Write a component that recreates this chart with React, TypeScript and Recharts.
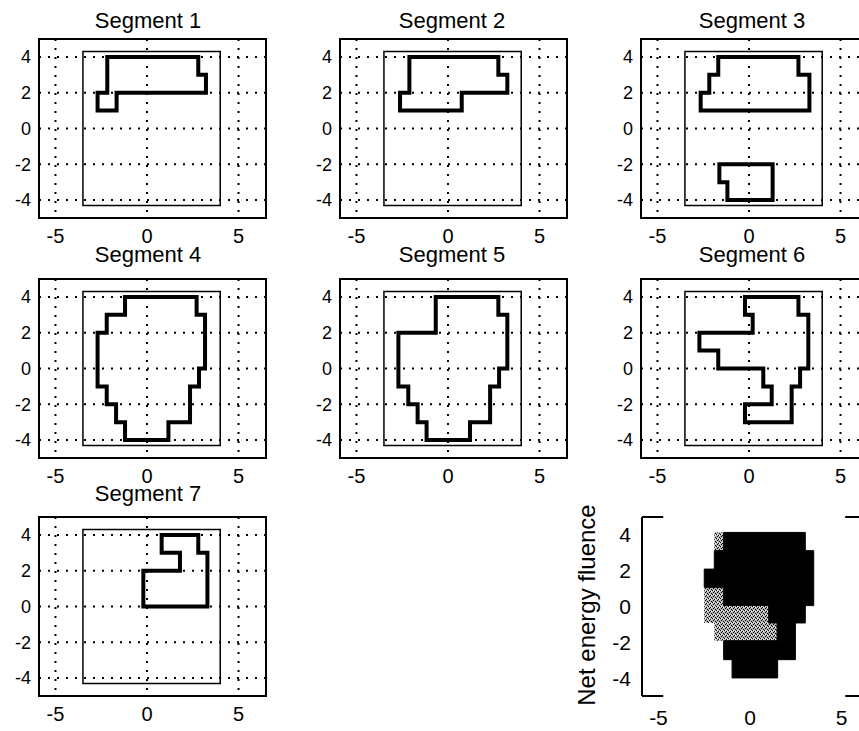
import React from "react";
import { ScatterChart, Scatter, XAxis, YAxis, CartesianGrid, ReferenceArea, ReferenceLine } from "recharts";

const FONT = '"Liberation Sans", Arial, Helvetica, sans-serif';

// axes
const X_DOMAIN: [number, number] = [-5.9, 6.5];
const Y_DOMAIN: [number, number] = [-5, 5];
const xTicks = [-5, 0, 5];
const yTicks = [-4, -2, 0, 2, 4];

// collimator field (thin rectangle)
const fieldX = [-3.5, 4.0];
const fieldY = [-4.3, 4.3];

// leaf pairs, bottom edge of each 1 cm row, top to bottom
const leafRows = [3, 2, 1, 0, -1, -2, -3, -4];

// leaf tip positions per row (null = closed pair)
const seg1Left = [-2.17, -2.17, -2.7, null, null, null, null, null];
const seg1Right = [2.8, 3.22, -1.66, null, null, null, null, null];
const seg2Left = [-2.11, -2.11, -2.62, null, null, null, null, null];
const seg2Right = [2.75, 3.24, 0.75, null, null, null, null, null];
const seg3Left = [-1.68, -2.17, -2.64, null, null, null, -1.62, -1.18];
const seg3Right = [2.7, 3.3, 3.3, null, null, null, 1.29, 1.29];
const seg4Left = [-1.2, -2.2, -2.7, -2.7, -2.7, -2.2, -1.69, -1.2];
const seg4Right = [2.71, 3.17, 3.17, 3.17, 2.84, 2.35, 2.35, 1.17];
const seg5Left = [-0.67, -0.67, -2.71, -2.71, -2.71, -2.17, -1.66, -1.17];
const seg5Right = [2.75, 3.24, 3.24, 3.24, 2.79, 2.3, 2.3, 1.2];
const seg6Left = [-0.22, 0.2, -2.71, -1.68, 0.78, 1.24, -0.22, null];
const seg6Right = [2.7, 3.24, 3.24, 3.24, 2.79, 2.33, 2.33, null];
const seg7Left = [0.8, 1.8, -0.2, -0.2, null, null, null, null];
const seg7Right = [2.8, 3.3, 3.3, 3.3, null, null, null, null];

const segments = [
  { title: "Segment 1", left: seg1Left, right: seg1Right },
  { title: "Segment 2", left: seg2Left, right: seg2Right },
  { title: "Segment 3", left: seg3Left, right: seg3Right },
  { title: "Segment 4", left: seg4Left, right: seg4Right },
  { title: "Segment 5", left: seg5Left, right: seg5Right },
  { title: "Segment 6", left: seg6Left, right: seg6Right },
  { title: "Segment 7", left: seg7Left, right: seg7Right },
];

// net fluence map: row edges (top to bottom) and blocks [row, x1, x2]
const fluenceEdges = [4.14, 3.12, 2.09, 1.07, 0.05, -0.92, -1.91, -2.97, -3.99];
const fluenceBlack = [
  [0, -1.44, 3.02],
  [1, -1.95, 3.48],
  [2, -2.5, 3.48],
  [3, -1.44, 3.48],
  [4, 1.02, 3.02],
  [5, 1.48, 2.48],
  [6, -1.44, 2.48],
  [7, -0.98, 1.51],
];
const fluenceGray = [
  [0, -1.95, -1.44],
  [3, -2.5, -1.44],
  [4, -2.5, 1.02],
  [5, -1.95, 1.48],
];
const fluenceImageX = [-4.74, 5.2];

// layout
const colLeft = [0, 301, 602];
const rowTop = [0, 240, 478];
const titleX = [148, 452, 752];
const titleBase = [29, 263, 502];
const W = 310;
const H = 270;
const MARGIN = { top: 39, right: 44, bottom: 22, left: 0 };

type Pt = { x: number; y: number };

function outlines(left: (number | null)[], right: (number | null)[]): Pt[][] {
  const runs: number[][] = [];
  let cur: number[] = [];
  left.forEach((l, i) => {
    if (l === null) {
      if (cur.length) runs.push(cur);
      cur = [];
    } else cur.push(i);
  });
  if (cur.length) runs.push(cur);
  return runs.map((run) => {
    const pts: Pt[] = [];
    run.forEach((i) => {
      pts.push({ x: right[i] as number, y: leafRows[i] + 1 }, { x: right[i] as number, y: leafRows[i] });
    });
    [...run].reverse().forEach((i) => {
      pts.push({ x: left[i] as number, y: leafRows[i] }, { x: left[i] as number, y: leafRows[i] + 1 });
    });
    pts.push(pts[0], pts[1]);
    return pts;
  });
}

const tickSmall = { fill: "#000", fontSize: 18, fontFamily: FONT };
const tickX = { fill: "#000", fontSize: 20, fontFamily: FONT };
const tickBig = { fill: "#000", fontSize: 21, fontFamily: FONT };
const frame = { stroke: "#000", strokeWidth: 2 };

function SegmentPlot({ idx }: { idx: number }) {
  const seg = segments[idx];
  const col = idx % 3;
  const row = Math.floor(idx / 3);
  const shapes = outlines(seg.left, seg.right);
  return (
    <>
      <div style={{ position: "absolute", left: colLeft[col], top: rowTop[row] }}>
        <ScatterChart width={W} height={H} margin={MARGIN}>
          <CartesianGrid stroke="#000" strokeWidth={2} strokeDasharray="2 7" />
          <XAxis dataKey="x" type="number" domain={X_DOMAIN} ticks={xTicks} allowDataOverflow
            height={30} tickLine={false} tickMargin={5} axisLine={frame} tick={tickX} />
          <YAxis dataKey="y" type="number" domain={Y_DOMAIN} ticks={yTicks} allowDataOverflow
            width={39} tickLine={false} axisLine={frame} tick={tickSmall} />
          <ReferenceArea x1={X_DOMAIN[0]} x2={X_DOMAIN[1]} y1={Y_DOMAIN[0]} y2={Y_DOMAIN[1]}
            fill="none" stroke="#000" strokeWidth={2} ifOverflow="visible" />
          <ReferenceArea x1={fieldX[0]} x2={fieldX[1]} y1={fieldY[0]} y2={fieldY[1]}
            fill="none" stroke="#000" strokeWidth={1.5} ifOverflow="visible" />
          {shapes.map((pts, i) => (
            <Scatter key={i} data={pts} isAnimationActive={false} shape={() => <g />}
              line={{ stroke: "#000", strokeWidth: 4, fill: "none" }} />
          ))}
        </ScatterChart>
      </div>
      <div style={{
        position: "absolute", left: titleX[col] - 100, width: 200, top: titleBase[row] - 18,
        textAlign: "center", fontFamily: FONT, fontSize: 22, lineHeight: "20px", color: "#000",
      }}>
        {seg.title}
      </div>
    </>
  );
}

function FluencePlot() {
  const yAxisW = 82;
  return (
    <>
      <div style={{ position: "absolute", left: 560, top: rowTop[2] }}>
        <ScatterChart width={yAxisW + 227 + 44} height={H} margin={MARGIN}>
          <XAxis dataKey="x" type="number" domain={X_DOMAIN} ticks={xTicks} allowDataOverflow height={30}
            tickLine={false} tickMargin={8} axisLine={false} tick={tickBig} />
          <YAxis dataKey="y" type="number" domain={Y_DOMAIN} ticks={yTicks} allowDataOverflow width={yAxisW}
            tickLine={false} tickMargin={5} axisLine={frame} tick={tickBig} />
          <ReferenceLine segment={[{ x: X_DOMAIN[0], y: Y_DOMAIN[1] }, { x: fluenceImageX[0], y: Y_DOMAIN[1] }]} {...frame} />
          <ReferenceLine segment={[{ x: X_DOMAIN[0], y: Y_DOMAIN[0] }, { x: fluenceImageX[0], y: Y_DOMAIN[0] }]} {...frame} />
          <ReferenceLine segment={[{ x: fluenceImageX[1], y: Y_DOMAIN[1] }, { x: X_DOMAIN[1], y: Y_DOMAIN[1] }]} {...frame} />
          <ReferenceLine segment={[{ x: fluenceImageX[1], y: Y_DOMAIN[0] }, { x: X_DOMAIN[1], y: Y_DOMAIN[0] }]} {...frame} />
          {fluenceGray.map(([r, x1, x2], i) => (
            <ReferenceArea key={"g" + i} x1={x1} x2={x2} y1={fluenceEdges[r + 1]} y2={fluenceEdges[r]}
              fill="url(#stipple)" fillOpacity={1} stroke="none" />
          ))}
          {fluenceBlack.map(([r, x1, x2], i) => (
            <ReferenceArea key={"b" + i} x1={x1} x2={x2} y1={fluenceEdges[r + 1]} y2={fluenceEdges[r]}
              fill="#000" fillOpacity={1} stroke="#000" strokeWidth={1} />
          ))}
          <Scatter data={[{ x: 0, y: 0 }]} isAnimationActive={false} shape={() => <g />} />
        </ScatterChart>
      </div>
      <div style={{
        position: "absolute", left: 587 - 150, top: 605 - 14, width: 300, height: 28,
        transform: "rotate(-90deg)", textAlign: "center", fontFamily: FONT, fontSize: 24,
        lineHeight: "28px", color: "#000", whiteSpace: "nowrap",
      }}>
        Net energy fluence
      </div>
    </>
  );
}

export default function App() {
  return (
    <div style={{ position: "absolute", left: 0, top: 0, width: 859, height: 731, overflow: "hidden", background: "#fff" }}>
      <svg width={0} height={0} style={{ position: "absolute" }}>
        <defs>
          <pattern id="stipple" width={4} height={4} patternUnits="userSpaceOnUse">
            <rect width={4} height={4} fill="#b4b4b4" />
            <rect x={0} y={0} width={1} height={1} fill="#000" />
            <rect x={2} y={1} width={1} height={1} fill="#000" />
            <rect x={1} y={2} width={1} height={1} fill="#000" />
            <rect x={3} y={3} width={1} height={1} fill="#000" />
            <rect x={3} y={1} width={1} height={1} fill="#fff" />
            <rect x={1} y={0} width={1} height={1} fill="#fff" />
          </pattern>
        </defs>
      </svg>
      {segments.map((_, i) => (
        <SegmentPlot key={i} idx={i} />
      ))}
      <FluencePlot />
    </div>
  );
}
